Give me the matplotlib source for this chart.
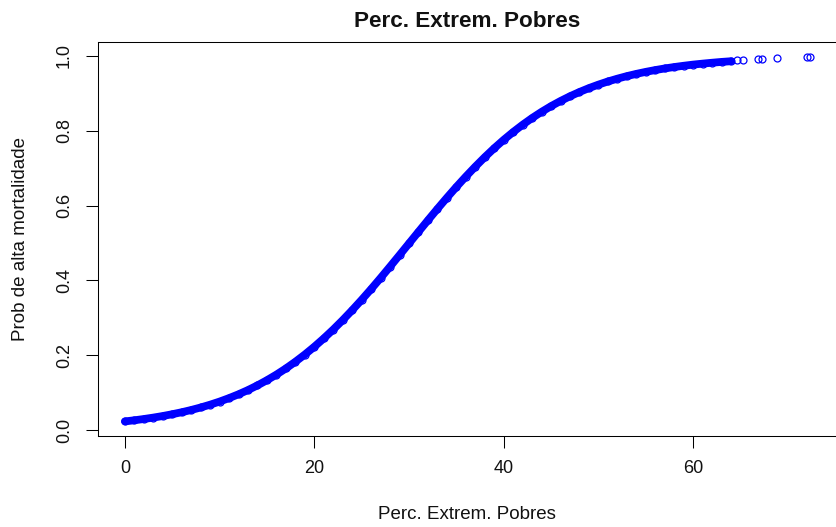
import numpy as np
import matplotlib
matplotlib.use("Agg")
import matplotlib.pyplot as plt

plt.rcParams["font.family"] = ["Liberation Sans", "DejaVu Sans"]

# ==========================
# dados: % extremamente pobres x prob. ajustada de alta mortalidade
# ==========================

perc_pobres = [
    0, 1, 2, 3, 4, 5, 6, 7, 8, 9,
    10, 11, 12, 13, 14, 15, 16, 17, 18, 19,
    20, 21, 22, 23, 24, 25, 26, 27, 28, 29,
    30, 31, 32, 33, 34, 35, 36, 37, 38, 39,
    40, 41, 42, 43, 44, 45, 46, 47, 48, 49,
    50, 51, 52, 53, 54, 55, 56, 57, 58, 59,
    60, 61, 62, 63, 64,
    64.6, 65.3, 66.9, 67.3, 68.9, 72.0, 72.3,
]

prob_mortalidade = [
    0.0232, 0.0262, 0.0296, 0.0334, 0.0376, 0.0424, 0.0477, 0.0537, 0.0604, 0.0679,
    0.0762, 0.0855, 0.0957, 0.1070, 0.1195, 0.1333, 0.1483, 0.1647, 0.1826, 0.2019,
    0.2227, 0.2450, 0.2687, 0.2939, 0.3204, 0.3481, 0.3768, 0.4065, 0.4369, 0.4677,
    0.4988, 0.5298, 0.5607, 0.5911, 0.6208, 0.6497, 0.6774, 0.7040, 0.7293, 0.7532,
    0.7756, 0.7965, 0.8159, 0.8339, 0.8504, 0.8656, 0.8794, 0.8920, 0.9034, 0.9138,
    0.9231, 0.9315, 0.9390, 0.9458, 0.9518, 0.9572, 0.9620, 0.9663, 0.9701, 0.9735,
    0.9766, 0.9792, 0.9816, 0.9838, 0.9856,
    0.9880, 0.9890, 0.9910, 0.9910, 0.9940, 0.9970, 0.9980,
]

x = np.array(perc_pobres)
y = np.array(prob_mortalidade)

# trecho com muitos municipios (pontos sobrepostos formam uma faixa)
denso = x <= 64

fig = plt.figure(figsize=(8.36, 5.27), dpi=100)
ax = fig.add_axes([97.5 / 836, 1 - 436 / 527, 739.5 / 836, 394 / 527])

ax.plot(x[denso], y[denso], color="blue", lw=5.6, solid_capstyle="round", zorder=2)
ax.plot(x, y, "o", mfc="none", mec="blue", ms=5.0, mew=0.9, zorder=3)

# limites no estilo do R (4% de folga)
dx = 0.04 * (x.max() - x.min())
dy = 0.04 * (y.max() - y.min())
ax.set_xlim(x.min() - dx, x.max() + dx)
ax.set_ylim(y.min() - dy, y.max() + dy)

ax.set_xticks([0, 20, 40, 60])
ax.set_yticks([0.0, 0.2, 0.4, 0.6, 0.8, 1.0])
ax.set_yticklabels(["0.0", "0.2", "0.4", "0.6", "0.8", "1.0"], rotation=90, va="center")

ax.tick_params(direction="out", length=8.6, width=0.75, color="black",
               labelsize=13, labelcolor="#111111")
ax.tick_params(axis="x", pad=9)
ax.tick_params(axis="y", pad=9)

for s in ax.spines.values():
    s.set_linewidth(0.75)
    s.set_color("black")

ax.set_title("Perc. Extrem. Pobres", fontsize=16.2, fontweight="bold",
             y=1.0508, va="center", pad=0, color="#111111")
ax.set_xlabel("Perc. Extrem. Pobres", fontsize=13.5, va="center", color="#111111")
ax.set_ylabel("Prob de alta mortalidade", fontsize=13.5, va="center", color="#111111")
ax.xaxis.set_label_coords(0.5, -0.2005)
ax.yaxis.set_label_coords(-0.1048, 0.5)

fig.savefig("out.png", dpi=100)
